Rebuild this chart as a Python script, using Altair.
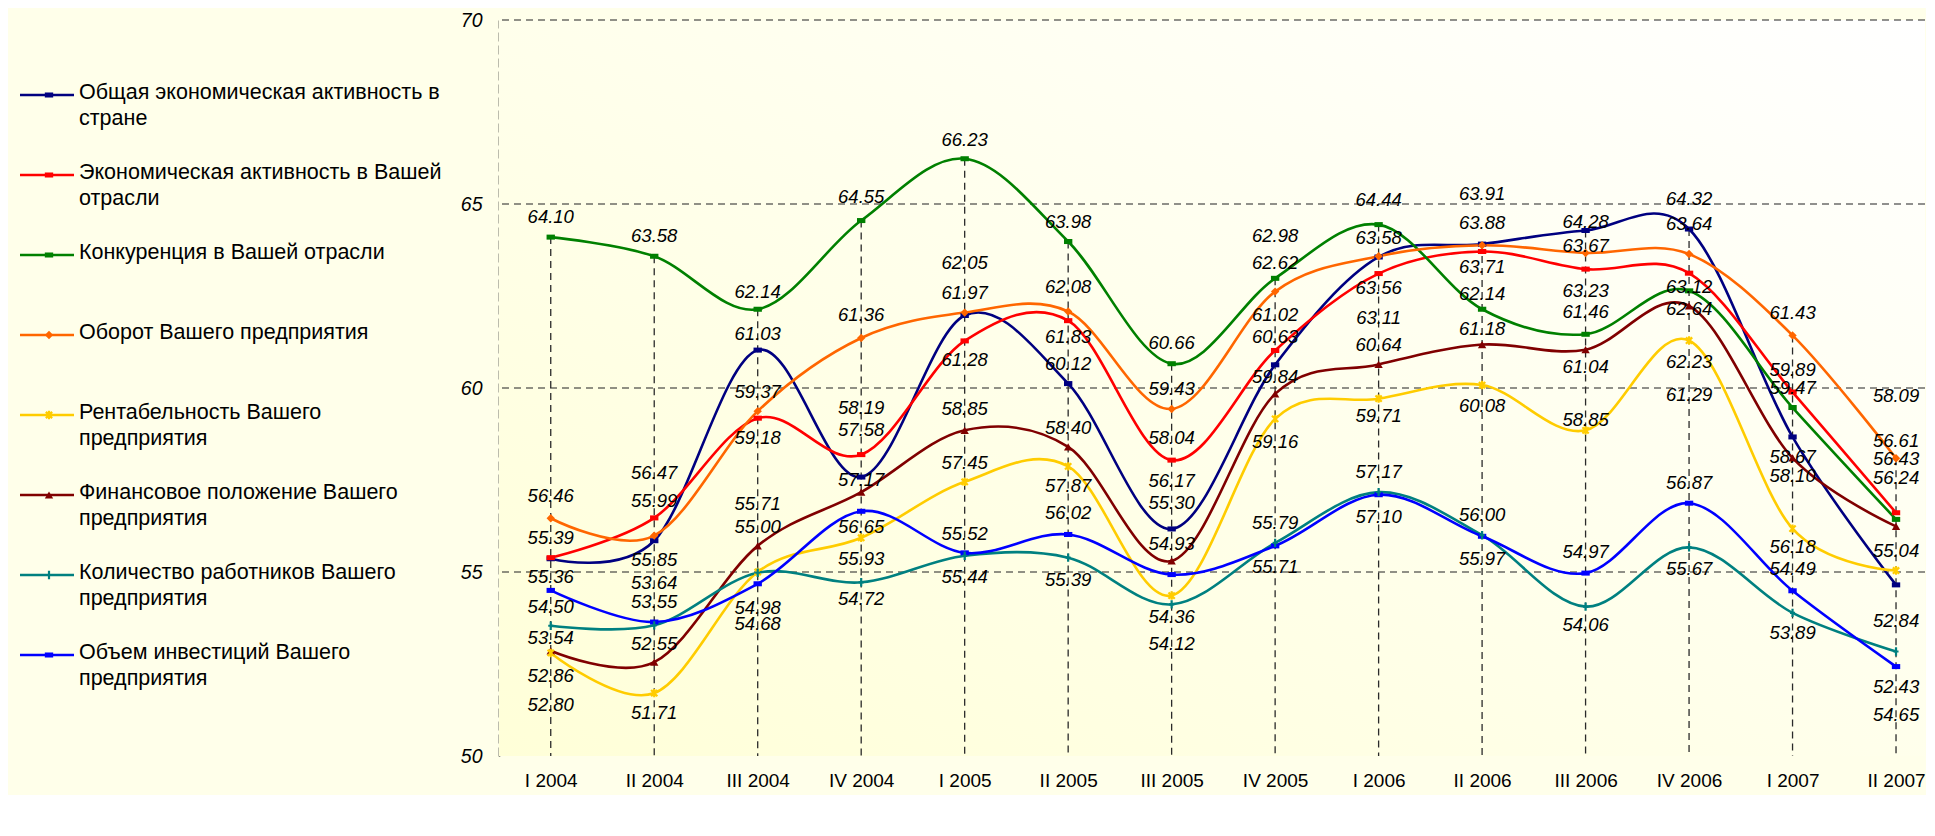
import altair as alt
import pandas as pd

categories = ["I 2004", "II 2004", "III 2004", "IV 2004", "I 2005", "II 2005", "III 2005",
              "IV 2005", "I 2006", "II 2006", "III 2006", "IV 2006", "I 2007", "II 2007"]

series_names = [
    "Общая экономическая активность в стране",
    "Экономическая активность в Вашей отрасли",
    "Конкуренция в Вашей отрасли",
    "Оборот Вашего предприятия",
    "Рентабельность Вашего предприятия",
    "Финансовое положение Вашего предприятия",
    "Количество работников Вашего предприятия",
    "Объем инвестиций Вашего предприятия",
]
legend_lines = [
    "Общая экономическая активность в\nстране",
    "Экономическая активность в Вашей\nотрасли",
    "Конкуренция в Вашей отрасли",
    "Оборот Вашего предприятия",
    "Рентабельность Вашего\nпредприятия",
    "Финансовое положение Вашего\nпредприятия",
    "Количество работников Вашего\nпредприятия",
    "Объем инвестиций Вашего\nпредприятия",
]

obshchaya = [55.36, 55.85, 61.03, 57.58, 61.97, 60.12, 56.17, 60.63, 63.56, 63.91, 64.28, 64.32, 58.67, 54.65]
otrasl = [55.39, 56.47, 59.18, 58.19, 61.28, 61.83, 58.04, 61.02, 63.11, 63.71, 63.23, 63.12, 59.89, 56.61]
konkurenciya = [64.10, 63.58, 62.14, 64.55, 66.23, 63.98, 60.66, 62.98, 64.44, 62.14, 61.46, 62.64, 59.47, 56.43]
oborot = [56.46, 55.99, 59.37, 61.36, 62.05, 62.08, 59.43, 62.62, 63.58, 63.88, 63.67, 63.64, 61.43, 58.09]
rentabelnost = [52.80, 51.71, 55.00, 55.93, 57.45, 57.87, 54.36, 59.16, 59.71, 60.08, 58.85, 61.29, 56.18, 55.04]
finansy = [52.86, 52.55, 55.71, 57.17, 58.85, 58.40, 55.30, 59.84, 60.64, 61.18, 61.04, 62.23, 58.10, 56.24]
rabotniki = [53.54, 53.55, 54.98, 54.72, 55.44, 55.39, 54.12, 55.79, 57.17, 56.00, 54.06, 55.67, 53.89, 52.84]
investicii = [54.50, 53.64, 54.68, 56.65, 55.52, 56.02, 54.93, 55.71, 57.10, 55.97, 54.97, 56.87, 54.49, 52.43]

all_values = [obshchaya, otrasl, konkurenciya, oborot, rentabelnost, finansy, rabotniki, investicii]

# ---- style ----
colors = ["#000080", "#FF0000", "#008000", "#FF6600", "#FFCC00", "#800000", "#008080", "#0000FF"]
rect_path = "M-1,-0.6H1V0.6H-1Z"
shapes = [rect_path, rect_path, rect_path, "diamond",
          "M-0.75,-0.75L0.75,0.75M-0.75,0.75L0.75,-0.75M0,-1L0,1",
          "triangle-up",
          "M0,-1L0,1M-0.6,0L0.6,0",
          rect_path]
filled_flag = [True, True, True, True, False, True, False, True]
sizes = [70, 70, 70, 110, 170, 110, 110, 70]

# label vertical offsets (px, positive = below the point) for each data label
label_dy = [
    [18, 19, -16, -47, -23, -20, -48, -28, 31, -50, -8, -30, 20, 130],
    [-20, -45, 20, -47, 19, 16, -22, -35, 44, 16, 22, 14, -22, -72],
    [-20, -20, -17, -24, -19, -20, -21, -42, -25, -15, -22, 18, -20, -60],
    [-22, -35, -19, -23, -50, -24, -20, -29, -18, -22, -7, -30, -22, -62],
    [52, 20, -45, 21, -19, 20, 21, 23, 17, 21, -10, 54, 18, -20],
    [25, -18, -42, -12, -21, -19, -58, -17, -19, -16, 17, 56, 18, -48],
    [12, -23, 35, 17, 21, 22, 40, -20, -20, -20, 18, 22, 20, -30],
    [17, -39, 40, 16, -19, -21, -31, 21, 22, 23, -21, -20, -22, 20],
]

FONT = "Liberation Sans"
W, H = 1426, 736
Y0, Y1 = 50, 70
px_per_unit = H / (Y1 - Y0)

rows = []
for s, (name, vals) in enumerate(zip(series_names, all_values)):
    for i, v in enumerate(vals):
        rows.append({"series": name, "idx": i, "value": v, "label": f"{v:.2f}",
                     "label_pos": v - label_dy[s][i] / px_per_unit, "filled": filled_flag[s]})
df = pd.DataFrame(rows)

color_scale = alt.Scale(domain=series_names, range=colors)
shape_scale = alt.Scale(domain=series_names, range=shapes)
size_scale = alt.Scale(domain=series_names, range=sizes)

label_expr = "[" + ",".join(f"'{c}'" for c in categories) + "][datum.value]"
x_enc = alt.X("idx:Q", scale=alt.Scale(domain=[-0.5, 13.28], nice=False, zero=False),
              axis=alt.Axis(values=list(range(len(categories))), labelExpr=label_expr, grid=False,
                            ticks=False, domain=False, labelFont=FONT, labelFontSize=19,
                            labelColor="#000000", labelPadding=15, title=None))
y_scale = alt.Scale(domain=[Y0, Y1], nice=False, zero=False)
y_enc = alt.Y("value:Q", scale=y_scale,
              axis=alt.Axis(values=[50, 55, 60, 65, 70], grid=False, ticks=False,
                            domainDash=[9, 4], domainColor="#222222", domainWidth=1.6,
                            labelFont=FONT, labelFontStyle="italic", labelFontSize=19.5,
                            labelColor="#000000", labelPadding=17, title=None))

base = alt.Chart(df)

bg = alt.Chart(pd.DataFrame({"a": [0]})).mark_rect(
    fill=alt.Gradient(gradient="linear", x1=0, y1=1, x2=1, y2=0,
                      stops=[alt.GradientStop(offset=0, color="#FFFFD8"),
                             alt.GradientStop(offset=1, color="#FFFFFF")])
).encode(x=alt.value(0), x2=alt.value(W), y=alt.value(0), y2=alt.value(H))

grid = alt.Chart(pd.DataFrame({"g": [55, 60, 65, 70]})).mark_rule(
    color="#222222", strokeDash=[7, 5], strokeWidth=1.2
).encode(y=alt.Y("g:Q", scale=y_scale))

drops = base.transform_aggregate(vmax="max(value)", groupby=["idx"]).transform_calculate(
    base_v="50").mark_rule(color="#2a2a2a", strokeDash=[7, 5], strokeWidth=1.3).encode(
    x=alt.X("idx:Q"), y=alt.Y("vmax:Q", scale=y_scale), y2=alt.Y2("base_v:Q"))

lines = base.mark_line(interpolate="cardinal", strokeWidth=2.6).encode(
    x=x_enc, y=y_enc, color=alt.Color("series:N", scale=color_scale, legend=None),
    detail="series:N", order="idx:Q")

pts_filled = base.transform_filter("datum.filled").mark_point(filled=True, opacity=1).encode(
    x="idx:Q", y=alt.Y("value:Q", scale=y_scale),
    color=alt.Color("series:N", scale=color_scale, legend=None),
    shape=alt.Shape("series:N", scale=shape_scale, legend=None),
    size=alt.Size("series:N", scale=size_scale, legend=None))

pts_stroked = base.transform_filter("!datum.filled").mark_point(filled=False, opacity=1, strokeWidth=2.2).encode(
    x="idx:Q", y=alt.Y("value:Q", scale=y_scale),
    color=alt.Color("series:N", scale=color_scale, legend=None),
    shape=alt.Shape("series:N", scale=shape_scale, legend=None),
    size=alt.Size("series:N", scale=size_scale, legend=None))

labels = base.mark_text(font=FONT, fontStyle="italic", fontSize=18.5, color="#000000",
                        baseline="middle").encode(
    x="idx:Q", y=alt.Y("label_pos:Q", scale=y_scale), text="label:N")

main = alt.layer(bg, grid, drops, lines, pts_filled, pts_stroked, labels).properties(width=W, height=H)

# ---- legend panel ----
leg_df = pd.DataFrame({"series": series_names, "text": legend_lines})
leg_y = alt.Y("series:N", scale=alt.Scale(type="point", domain=series_names, range=[75, 635], padding=0),
              axis=None)
leg_color = alt.Color("series:N", scale=color_scale, legend=None)
leg_base = alt.Chart(leg_df)
leg_lines = leg_base.mark_rule(strokeWidth=2.6).encode(
    x=alt.value(12), x2=alt.value(66), y=leg_y, color=leg_color)
leg_pts_f = leg_base.transform_filter(
    alt.FieldOneOfPredicate(field="series", oneOf=[series_names[i] for i in range(8) if filled_flag[i]])
).mark_point(filled=True, opacity=1).encode(
    x=alt.value(41), y=leg_y, color=leg_color,
    shape=alt.Shape("series:N", scale=shape_scale, legend=None),
    size=alt.Size("series:N", scale=size_scale, legend=None))
leg_pts_s = leg_base.transform_filter(
    alt.FieldOneOfPredicate(field="series", oneOf=[series_names[i] for i in range(8) if not filled_flag[i]])
).mark_point(filled=False, opacity=1, strokeWidth=2.2).encode(
    x=alt.value(41), y=leg_y, color=leg_color,
    shape=alt.Shape("series:N", scale=shape_scale, legend=None),
    size=alt.Size("series:N", scale=size_scale, legend=None))
leg_text = leg_base.mark_text(font=FONT, fontSize=21.5, align="left", baseline="top", dy=-13,
                              lineHeight=26, lineBreak="\n", color="#000000").encode(
    x=alt.value(71), y=leg_y, text="text:N")
legend_panel = alt.layer(leg_lines, leg_pts_f, leg_pts_s, leg_text).properties(width=430, height=H)

chart = alt.hconcat(legend_panel, main, spacing=61, bounds="flush").properties(
    padding={"left": 0, "top": 2, "right": 0, "bottom": 5},
    background="#FFFFEA",
).configure_view(stroke=None)

chart.save("out.html", embed_options={"renderer": "svg", "actions": False})
